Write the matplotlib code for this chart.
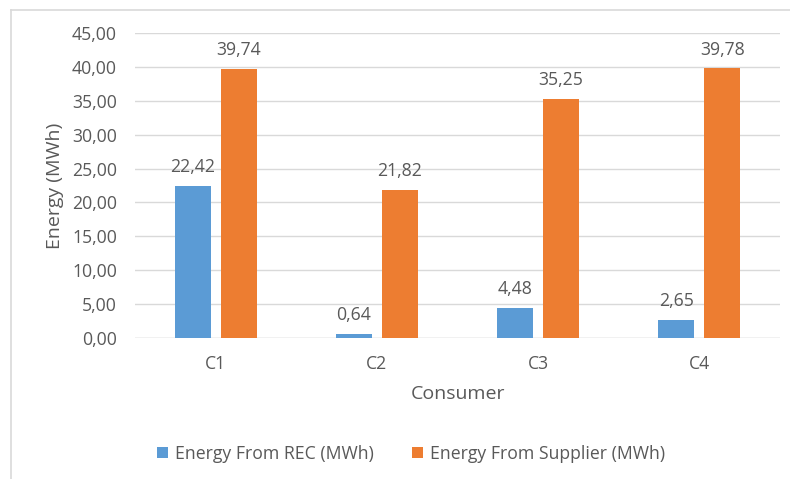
import matplotlib.pyplot as plt
import numpy as np

consumers = ["C1", "C2", "C3", "C4"]
energy_rec = [22.42, 0.64, 4.48, 2.65]
energy_supplier = [39.74, 21.82, 35.25, 39.78]
yticks = [0, 5, 10, 15, 20, 25, 30, 35, 40, 45]

blue = "#5B9BD5"
orange = "#ED7D31"
txt = "#595959"
grid_col = "#D9D9D9"

plt.rcParams['font.family'] = ['Open Sans', 'DejaVu Sans']

fig = plt.figure(figsize=(7.9, 4.79), dpi=100)
ax = fig.add_axes([135/790, 1 - 338/479, (780 - 135)/790, (338 - 33)/479])

x = np.arange(len(consumers))
w = 0.224
off = 0.143
b1 = ax.bar(x - off, energy_rec, w, color=blue, label="Energy From REC (MWh)", zorder=3)
b2 = ax.bar(x + off, energy_supplier, w, color=orange, label="Energy From Supplier (MWh)", zorder=3)

def fmt(v):
    return f"{v:.2f}".replace(".", ",")

for bars, vals in [(b1, energy_rec), (b2, energy_supplier)]:
    for bar, v in zip(bars, vals):
        ax.annotate(fmt(v), (bar.get_x() + bar.get_width()/2, v),
                    xytext=(0, 7), textcoords="offset points",
                    ha="center", va="bottom", fontsize=12.7, color=txt)

ax.set_xlim(-0.5, len(consumers) - 0.5)
ax.set_ylim(0, 45)
ax.set_yticks(yticks)
ax.set_yticklabels([fmt(t) for t in yticks], fontsize=12.7, color=txt)
ax.set_xticks(x)
ax.set_xticklabels(consumers, fontsize=12.7, color=txt)
ax.tick_params(length=0)
ax.tick_params(axis='y', pad=13)
ax.tick_params(axis='x', pad=12)
ax.yaxis.grid(True, color=grid_col, linewidth=1, zorder=0)
for s in ax.spines.values():
    s.set_visible(False)
ax.axhline(0, color=grid_col, linewidth=1, zorder=2)

ax.set_xlabel("Consumer", fontsize=14, color=txt, labelpad=9)
ax.set_ylabel("Energy (MWh)", fontsize=14, color=txt, labelpad=6)

fig.legend(handles=[b1, b2], loc="center", bbox_to_anchor=(411/790, 1 - 454/479),
           ncol=2, frameon=False, fontsize=12.7, labelcolor=txt,
           handlelength=0.6, handleheight=0.6, handletextpad=0.4, columnspacing=2.2)

# light frame along the top and left edge
fig.add_artist(plt.Line2D([11/790, 11/790], [0, 1 - 10/479], transform=fig.transFigure,
                          color=grid_col, linewidth=1.2))
fig.add_artist(plt.Line2D([11/790, 1], [1 - 10/479, 1 - 10/479], transform=fig.transFigure,
                          color=grid_col, linewidth=1.2))

fig.savefig("out.png", dpi=100)
